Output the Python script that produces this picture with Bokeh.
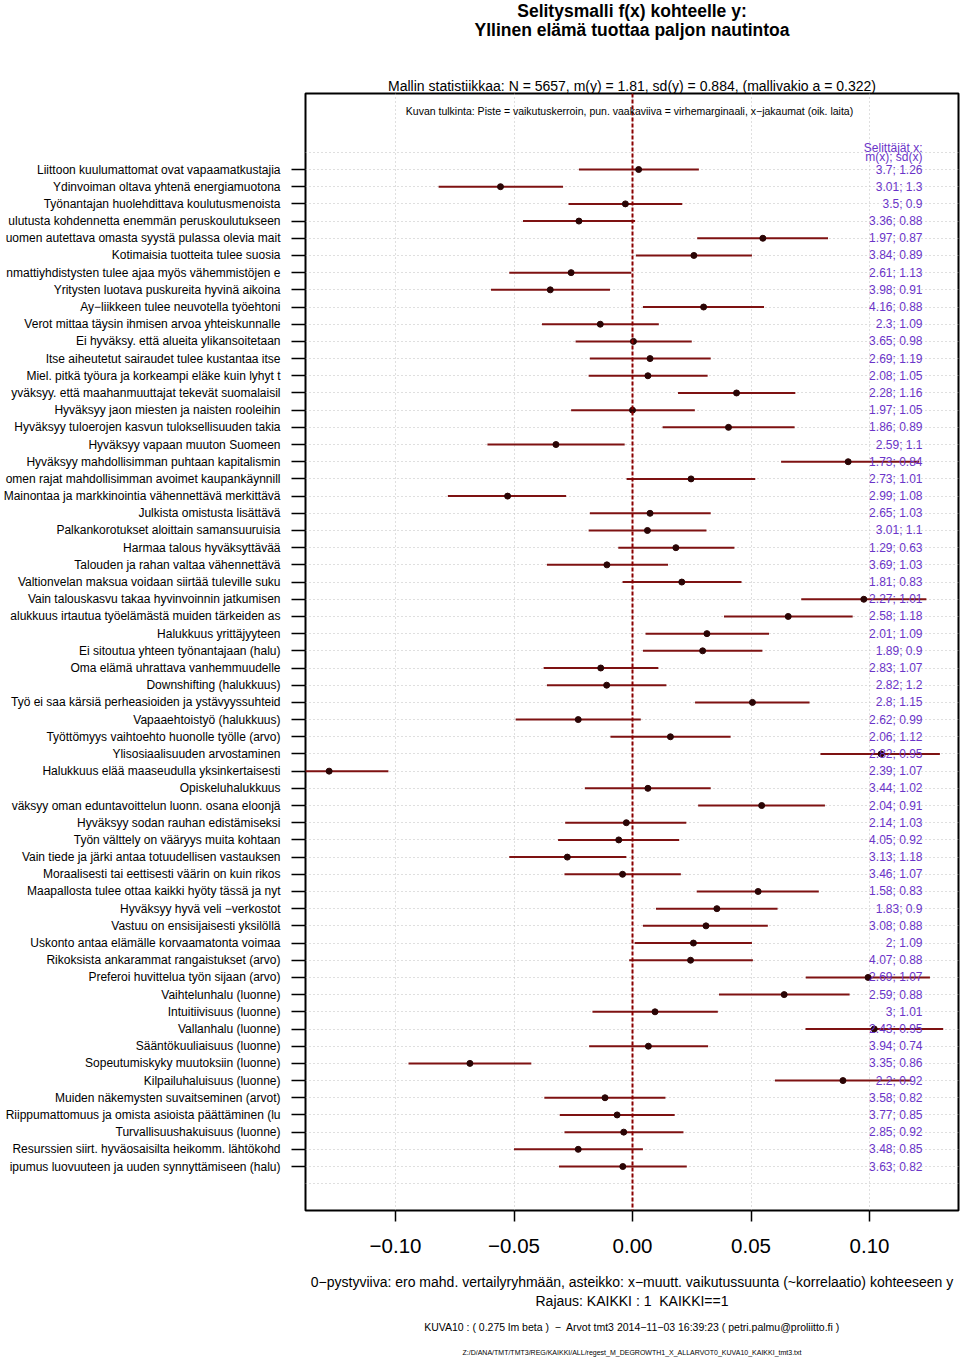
from bokeh.plotting import figure
from bokeh.models import Range1d, FixedTicker, CustomJSTickFormatter, Label, Span, Title
from bokeh.embed import file_html
from bokeh.resources import INLINE

# ---------------- data ----------------
labels = [
    "Liittoon kuulumattomat ovat vapaamatkustajia",
    "Ydinvoiman oltava yhtenä energiamuotona",
    "Työnantajan huolehdittava koulutusmenoista",
    "ulutusta kohdennetta enemmän peruskoulutukseen",
    "uomen autettava omasta syystä pulassa olevia mait",
    "Kotimaisia tuotteita tulee suosia",
    "nmattiyhdistysten tulee ajaa myös vähemmistöjen e",
    "Yritysten luotava puskureita hyvinä aikoina",
    "Ay−liikkeen tulee neuvotella työehtoni",
    "Verot mittaa täysin ihmisen arvoa yhteiskunnalle",
    "Ei hyväksy. että alueita ylikansoitetaan",
    "Itse aiheutetut sairaudet tulee kustantaa itse",
    "Miel. pitkä työura ja korkeampi eläke kuin lyhyt t",
    "yväksyy. että maahanmuuttajat tekevät suomalaisil",
    "Hyväksyy jaon miesten ja naisten rooleihin",
    "Hyväksyy tuloerojen kasvun tuloksellisuuden takia",
    "Hyväksyy vapaan muuton Suomeen",
    "Hyväksyy mahdollisimman puhtaan kapitalismin",
    "omen rajat mahdollisimman avoimet kaupankäynnill",
    "Mainontaa ja markkinointia vähennettävä merkittävä",
    "Julkista omistusta lisättävä",
    "Palkankorotukset aloittain samansuuruisia",
    "Harmaa talous hyväksyttävää",
    "Talouden ja rahan valtaa vähennettävä",
    "Valtionvelan maksua voidaan siirtää tuleville suku",
    "Vain talouskasvu takaa hyvinvoinnin jatkumisen",
    "alukkuus irtautua työelämästä muiden tärkeiden as",
    "Halukkuus yrittäjyyteen",
    "Ei sitoutua yhteen työnantajaan (halu)",
    "Oma elämä uhrattava vanhemmuudelle",
    "Downshifting (halukkuus)",
    "Työ ei saa kärsiä perheasioiden ja ystävyyssuhteid",
    "Vapaaehtoistyö (halukkuus)",
    "Työttömyys vaihtoehto huonolle työlle (arvo)",
    "Ylisosiaalisuuden arvostaminen",
    "Halukkuus elää maaseudulla yksinkertaisesti",
    "Opiskeluhalukkuus",
    "väksyy oman eduntavoittelun luonn. osana eloonjä",
    "Hyväksyy sodan rauhan edistämiseksi",
    "Työn välttely on vääryys muita kohtaan",
    "Vain tiede ja järki antaa totuudellisen vastauksen",
    "Moraalisesti tai eettisesti väärin on kuin rikos",
    "Maapallosta tulee ottaa kaikki hyöty tässä ja nyt",
    "Hyväksyy hyvä veli −verkostot",
    "Vastuu on ensisijaisesti yksilöllä",
    "Uskonto antaa elämälle korvaamatonta voimaa",
    "Rikoksista ankarammat rangaistukset (arvo)",
    "Preferoi huvittelua työn sijaan (arvo)",
    "Vaihtelunhalu (luonne)",
    "Intuitiivisuus (luonne)",
    "Vallanhalu (luonne)",
    "Sääntökuuliaisuus (luonne)",
    "Sopeutumiskyky muutoksiin (luonne)",
    "Kilpailuhaluisuus (luonne)",
    "Muiden näkemysten suvaitseminen (arvot)",
    "Riippumattomuus ja omista asioista päättäminen (lu",
    "Turvallisuushakuisuus (luonne)",
    "Resurssien siirt. hyväosaisilta heikomm. lähtökohd",
    "ipumus luovuuteen ja uuden synnyttämiseen (halu)",
]

coef = [0.0026, -0.0557, -0.0030, -0.0226, 0.0550, 0.0259, -0.0259, -0.0347, 0.0300, -0.0136,
        0.0004, 0.0074, 0.0065, 0.0439, 0.0000, 0.0405, -0.0323, 0.0910, 0.0247, -0.0527,
        0.0074, 0.0063, 0.0183, -0.0108, 0.0208, 0.0976, 0.0657, 0.0314, 0.0296, -0.0134,
        -0.0109, 0.0506, -0.0229, 0.0160, 0.1049, -0.1280, 0.0065, 0.0545, -0.0026, -0.0058,
        -0.0275, -0.0042, 0.0530, 0.0356, 0.0310, 0.0257, 0.0245, 0.0994, 0.0640, 0.0095,
        0.1020, 0.0067, -0.0686, 0.0888, -0.0116, -0.0065, -0.0037, -0.0229, -0.0041]

lo = [-0.0226, -0.0818, -0.0270, -0.0462, 0.0273, 0.0014, -0.0520, -0.0597, 0.0044, -0.0382,
      -0.0240, -0.0180, -0.0185, 0.0192, -0.0259, 0.0127, -0.0612, 0.0627, -0.0025, -0.0779,
      -0.0180, -0.0185, -0.0060, -0.0361, -0.0042, 0.0712, 0.0386, 0.0055, 0.0044, -0.0375,
      -0.0361, 0.0264, -0.0493, -0.0093, 0.0793, -0.1530, -0.0201, 0.0277, -0.0284, -0.0314,
      -0.0520, -0.0287, 0.0271, 0.0099, 0.0044, 0.0009, -0.0014, 0.0731, 0.0365, -0.0169,
      0.0730, -0.0183, -0.0945, 0.0601, -0.0372, -0.0307, -0.0287, -0.0500, -0.0310]

hi = [0.0280, -0.0293, 0.0210, 0.0011, 0.0825, 0.0504, -0.0005, -0.0095, 0.0555, 0.0111,
      0.0250, 0.0330, 0.0317, 0.0687, 0.0263, 0.0684, -0.0033, 0.1210, 0.0518, -0.0280,
      0.0330, 0.0312, 0.0430, 0.0150, 0.0460, 0.1240, 0.0929, 0.0576, 0.0548, 0.0109,
      0.0143, 0.0747, 0.0035, 0.0414, 0.1297, -0.1030, 0.0330, 0.0812, 0.0227, 0.0197,
      -0.0026, 0.0204, 0.0786, 0.0612, 0.0571, 0.0504, 0.0508, 0.1255, 0.0916, 0.0360,
      0.1311, 0.0319, -0.0427, 0.1176, 0.0139, 0.0178, 0.0215, 0.0044, 0.0229]

mx = [3.7, 3.01, 3.5, 3.36, 1.97, 3.84, 2.61, 3.98, 4.16, 2.3,
      3.65, 2.69, 2.08, 2.28, 1.97, 1.86, 2.59, 1.73, 2.73, 2.99,
      2.65, 3.01, 1.29, 3.69, 1.81, 2.27, 2.58, 2.01, 1.89, 2.83,
      2.82, 2.8, 2.62, 2.06, 2.82, 2.39, 3.44, 2.04, 2.14, 4.05,
      3.13, 3.46, 1.58, 1.83, 3.08, 2, 4.07, 2.69, 2.59, 3,
      2.43, 3.94, 3.35, 2.2, 3.58, 3.77, 2.85, 3.48, 3.63]

sdx = [1.26, 1.3, 0.9, 0.88, 0.87, 0.89, 1.13, 0.91, 0.88, 1.09,
       0.98, 1.19, 1.05, 1.16, 1.05, 0.89, 1.1, 0.84, 1.01, 1.08,
       1.03, 1.1, 0.63, 1.03, 0.83, 1.01, 1.18, 1.09, 0.9, 1.07,
       1.2, 1.15, 0.99, 1.12, 0.95, 1.07, 1.02, 0.91, 1.03, 0.92,
       1.18, 1.07, 0.83, 0.9, 0.88, 1.09, 0.88, 1.07, 0.88, 1.01,
       0.95, 0.74, 0.86, 0.92, 0.82, 0.85, 0.92, 0.85, 0.82]

xticks = [-0.10, -0.05, 0.0, 0.05, 0.10]

title1 = "Selitysmalli f(x) kohteelle y:"
title2 = "Yllinen elämä tuottaa paljon nautintoa"
stats_text = "Mallin statistiikkaa: N = 5657, m(y) = 1.81, sd(y) = 0.884, (mallivakio a = 0.322)"
guide_text = "Kuvan tulkinta: Piste = vaikutuskerroin, pun. vaakaviiva = virhemarginaali, x−jakaumat (oik. laita)"
foot1 = "0−pystyviiva: ero mahd. vertailyryhmään, asteikko: x−muutt. vaikutussuunta (~korrelaatio) kohteeseen y"
foot2 = "Rajaus: KAIKKI : 1 \u00a0KAIKKI==1"
foot3 = "KUVA10 : ( 0.275 lm beta ) \u00a0\u2212\u00a0 Arvot tmt3 2014−11−03 16:39:23 ( petri.palmu@proliitto.fi )"
foot4 = "Z:/D/ANA/TMT/TMT3/REG/KAIKKI/ALL/regest_M_DEGROWTH1_X_ALLARVOT0_KUVA10_KAIKKI_tmt3.txt"
right_head1 = "Selittäjät x:"
right_head2 = "m(x); sd(x)"

# ---------------- layout helpers (canvas pixel -> data) ----------------
X0, XS = 632.0, 2370.0
Y1, YS = 169.0, 17.19


def dx(px):
    return (px - X0) / XS


def dy(py):
    return 1 + (py - Y1) / YS


FONT = "Liberation Sans"
PURPLE = "#6A34C8"
rows = list(range(1, len(labels) + 1))
right_txt = [f"{m:g}; {s:g}" for m, s in zip(mx, sdx)]

p = figure(frame_width=653, frame_height=1117, output_backend="svg", toolbar_location=None,
           x_range=Range1d(dx(305), dx(958)), y_range=Range1d(dy(1210), dy(93)),
           min_border_left=305, min_border_right=2, min_border_top=0, min_border_bottom=0,
           background_fill_color="white", border_fill_color="white")

p.outline_line_color = "black"
p.outline_line_width = 2

# grids
p.xgrid.ticker = FixedTicker(ticks=xticks)
p.ygrid.ticker = FixedTicker(ticks=list(range(0, len(labels) + 2)))
for g in (p.xgrid, p.ygrid):
    g.grid_line_color = "#BEBEBE"
    g.grid_line_dash = "1 3"
    g.grid_line_width = 1

# axes
p.yaxis.ticker = FixedTicker(ticks=rows)
p.yaxis.major_label_overrides = {r: lab for r, lab in zip(rows, labels)}
p.yaxis.axis_line_color = None
p.yaxis.major_tick_out = 14
p.yaxis.major_tick_in = 0
p.yaxis.major_tick_line_width = 1.5
p.yaxis.minor_tick_line_color = None
p.yaxis.major_label_standoff = 11
p.yaxis.major_label_text_font = FONT
p.yaxis.major_label_text_font_size = "12px"
p.yaxis.major_label_text_color = "black"

p.xaxis.ticker = FixedTicker(ticks=xticks)
p.xaxis.formatter = CustomJSTickFormatter(
    code="return (tick < -1e-9 ? '\\u2212' : '') + Math.abs(tick).toFixed(2);")
p.xaxis.axis_line_color = None
p.xaxis.major_tick_out = 11
p.xaxis.major_tick_in = 0
p.xaxis.major_tick_line_width = 1.5
p.xaxis.minor_tick_line_color = None
p.xaxis.major_label_standoff = 17
p.xaxis.major_label_text_font = FONT
p.xaxis.major_label_text_font_size = "20.5px"
p.xaxis.major_label_text_color = "black"
p.xaxis.axis_label = foot1
p.xaxis.axis_label_standoff = 18
p.xaxis.axis_label_text_font = FONT
p.xaxis.axis_label_text_font_size = "14px"
p.xaxis.axis_label_text_font_style = "normal"
p.xaxis.axis_label_text_color = "black"

# zero line
p.add_layout(Span(location=0, dimension="height", line_color="#8B0000",
                  line_width=2, line_dash="4 2"))

# CI lines and points
p.segment(x0=lo, x1=hi, y0=rows, y1=rows, line_color="#7E1212", line_width=2)
p.scatter(x=coef, y=rows, size=6, fill_color="#2A0505", line_color="#2A0505")

# right-hand x-distribution texts
p.text(x=[dx(922)] * len(rows), y=rows, text=right_txt, text_align="right",
       text_baseline="middle", text_color=PURPLE, text_font_size="12px",
       text_font={"value": FONT})


def add_label(text, px, py, size, color="black", align="center"):
    p.add_layout(Label(x=dx(px), y=dy(py), text=text, text_align=align,
                       text_baseline="middle", text_font=FONT, text_font_size=size,
                       text_color=color))


add_label(guide_text, 629, 110, "10.5px")
add_label(right_head1, 922, 147, "12px", color=PURPLE, align="right")
add_label(right_head2, 922, 156, "12px", color=PURPLE, align="right")

HAS_TEXT_ALIGN = "text_align" in Title.properties()


def add_title(text, side, size, valign, standoff, bold=False, line_height=1.2):
    kw = dict(text_align="center") if HAS_TEXT_ALIGN else {}
    p.add_layout(Title(text=text, align="center", vertical_align=valign,
                       standoff=standoff, text_font=FONT, text_font_size=size,
                       text_font_style="bold" if bold else "normal",
                       text_color="black", text_line_height=line_height, **kw), side)


# above: first added is closest to the frame
add_title(stats_text, "above", "14px", "bottom", 0)
add_title(" ", "above", "10px", "top", 20)
add_title(title1 + "\n" + title2, "above", "17.5px", "top", 0, bold=True, line_height=0.98)

# below (after the x axis)
add_title(foot2, "below", "14px", "top", 0)
add_title(foot3, "below", "10.5px", "top", 21)
add_title(foot4, "below", "7px", "top", 7)

open("out.html", "w").write(file_html(p, INLINE))
